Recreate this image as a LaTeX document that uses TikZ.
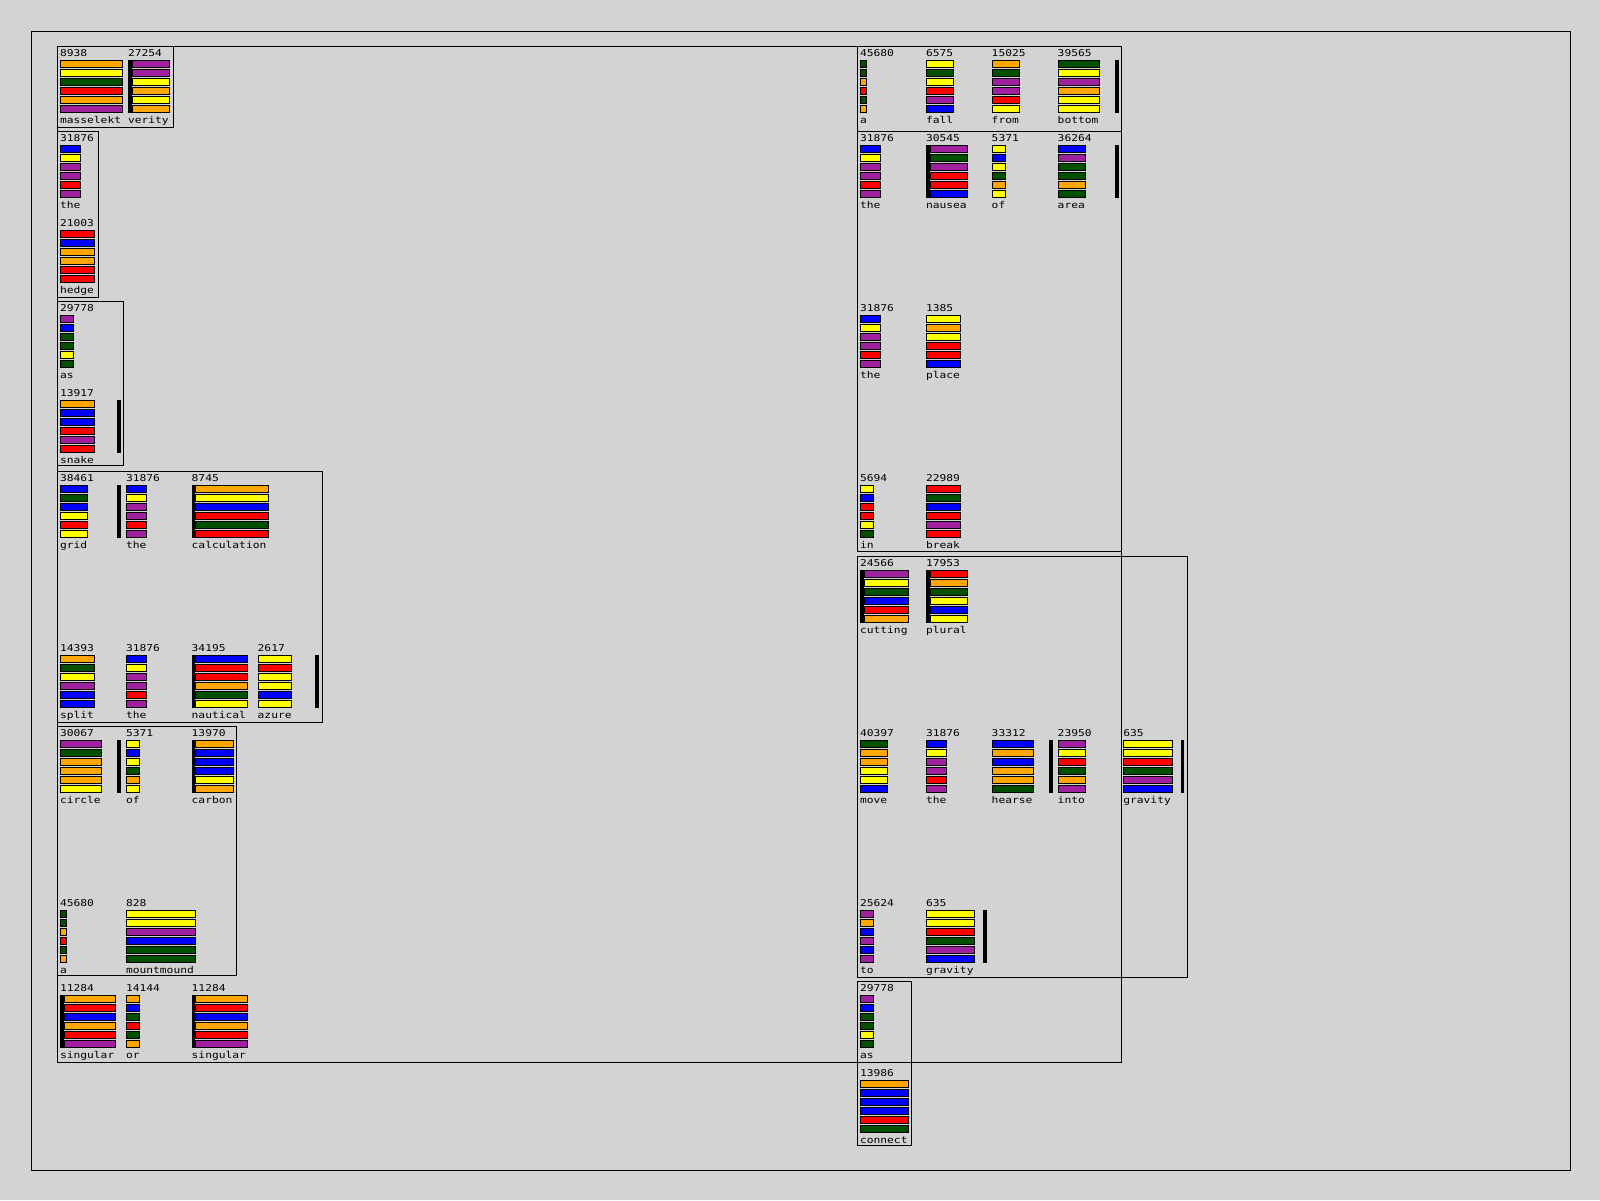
\documentclass[tikz,border=0pt]{standalone}
\usepackage{fontspec}
\newfontfamily\pixfont[FakeStretch=1.2]{DejaVu Sans Mono}
\definecolor{wO}{RGB}{255,165,0}
\definecolor{wY}{RGB}{255,255,0}
\definecolor{wG}{RGB}{0,80,0}
\definecolor{wR}{RGB}{255,0,0}
\definecolor{wP}{RGB}{160,32,160}
\definecolor{wB}{RGB}{0,0,255}
\definecolor{bgc}{RGB}{211,211,211}
\tikzset{
 lab/.style={inner sep=0pt, outer sep=0pt, font=\pixfont\fontsize{9.4}{9.4}\selectfont, anchor=base west, text=black},
 wbar/.style={draw=black, line width=1pt},
 wframe/.style={draw=black, line width=1pt},
 blk/.style={fill=black, draw=none},
}
% #1 name, #2 x, #3 top, #4 number, #5 word, #6 bar x0, #7 bar x1, #8 colours
\newcommand\wcell[8]{%
 \node[lab] (#1n) at ({#2},{#3+9.7}) {#4};
 \node[lab] (#1w) at ({#2},{#3+77}) {#5};
 \foreach \cl [count=\k from 0] in {#8} {
   \draw[wbar, fill=\cl] ({#6+0.5},{#3+14.5+9*\k}) rectangle ({#7-0.5},{#3+20.9+9*\k});
 }
}
\newcommand\lblk[2]{\fill[blk] ({#1},{#2+14}) rectangle ({#1+3.6},{#2+66.4});}
\newcommand\rblk[2]{\fill[blk] ({#1+57.3},{#2+14}) rectangle ({#1+61},{#2+66.4});}
\begin{document}
\begin{tikzpicture}[x=1pt,y=-1pt]
\fill[bgc] (0,0) rectangle (1600,1200);
\useasboundingbox (0,0) rectangle (1600,1200);
% frames
\draw[wframe] (31,31) rectangle (1570.5,1170.5);
\draw[wframe] (57.8,46.8) rectangle (1121.8,1062.8);
\draw[wframe] (57.8,46.8) rectangle (173.2,127.8);
\draw[wframe] (57.8,131.8) rectangle (98.2,297.5);
\draw[wframe] (57.8,301.8) rectangle (123.8,465.5);
\draw[wframe] (57.8,471.8) rectangle (322.2,722.5);
\draw[wframe] (57.8,726.8) rectangle (236.5,975.8);
\draw[wframe] (857.8,46.8) rectangle (1121.8,551.2);
\draw[wframe] (857.8,131.8) rectangle (1121.8,551.2);
\draw[wframe] (857.8,556.8) rectangle (1187.8,977.5);
\draw[wframe] (857.8,981.8) rectangle (911.8,1145.5);
% left column
\wcell{a1}{60}{46.3}{8938}{masselekt}{60}{122.7}{wO,wY,wG,wR,wO,wP}
\lblk{128}{46.3}
\wcell{a2}{128}{46.3}{27254}{verity}{131.7}{169.7}{wP,wP,wY,wO,wY,wO}
\wcell{a3}{60}{131.3}{31876}{the}{60}{80.7}{wB,wY,wP,wP,wR,wP}
\wcell{a4}{60}{216.3}{21003}{hedge}{60}{94.7}{wR,wB,wO,wO,wR,wR}
\wcell{a5}{60}{301.3}{29778}{as}{60}{73.7}{wP,wB,wG,wG,wY,wG}
\wcell{a6}{60}{386.3}{13917}{snake}{60}{94.7}{wO,wB,wB,wR,wP,wR}
\rblk{60}{386.3}
\wcell{a7}{60}{471.3}{38461}{grid}{60}{87.7}{wB,wG,wB,wY,wR,wY}
\rblk{60}{471.3}
\wcell{a8}{126}{471.3}{31876}{the}{126}{146.7}{wB,wY,wP,wP,wR,wP}
\lblk{191.7}{471.3}
\wcell{a9}{191.7}{471.3}{8745}{calculation}{195.4}{268.7}{wO,wY,wB,wR,wG,wR}
\wcell{a10}{60}{641.3}{14393}{split}{60}{94.7}{wO,wG,wY,wP,wB,wB}
\wcell{a11}{126}{641.3}{31876}{the}{126}{146.7}{wB,wY,wP,wP,wR,wP}
\lblk{191.7}{641.3}
\wcell{a12}{191.7}{641.3}{34195}{nautical}{195.4}{247.7}{wB,wR,wR,wO,wG,wY}
\wcell{a13}{257.7}{641.3}{2617}{azure}{257.7}{292.3}{wY,wR,wY,wY,wB,wY}
\rblk{257.7}{641.3}
\wcell{a14}{60}{726.3}{30067}{circle}{60}{101.7}{wP,wG,wO,wO,wO,wY}
\rblk{60}{726.3}
\wcell{a15}{126}{726.3}{5371}{of}{126}{139.7}{wY,wB,wY,wG,wO,wY}
\lblk{191.7}{726.3}
\wcell{a16}{191.7}{726.3}{13970}{carbon}{195.4}{233.7}{wO,wB,wB,wB,wY,wO}
\wcell{a17}{60}{896.3}{45680}{a}{60}{66.7}{wG,wG,wO,wR,wG,wO}
\wcell{a18}{126}{896.3}{828}{mountmound}{126}{195.7}{wY,wY,wP,wB,wG,wG}
\lblk{60}{981.3}
\wcell{a19}{60}{981.3}{11284}{singular}{63.5}{115.7}{wO,wR,wB,wO,wR,wP}
\wcell{a20}{126}{981.3}{14144}{or}{126}{139.7}{wO,wB,wG,wR,wG,wO}
\lblk{191.7}{981.3}
\wcell{a21}{191.7}{981.3}{11284}{singular}{195.4}{247.7}{wO,wR,wB,wO,wR,wP}
% right column
\wcell{b1}{860}{46.3}{45680}{a}{860}{866.7}{wG,wG,wO,wR,wG,wO}
\wcell{b2}{926}{46.3}{6575}{fall}{926}{953.7}{wY,wG,wY,wR,wP,wB}
\wcell{b3}{991.7}{46.3}{15025}{from}{991.7}{1019.7}{wO,wG,wP,wP,wR,wY}
\wcell{b4}{1057.7}{46.3}{39565}{bottom}{1057.7}{1099.7}{wG,wY,wP,wO,wY,wY}
\rblk{1057.7}{46.3}
\wcell{b5}{860}{131.3}{31876}{the}{860}{880.7}{wB,wY,wP,wP,wR,wP}
\lblk{926}{131.3}
\wcell{b6}{926}{131.3}{30545}{nausea}{929.6}{967.7}{wP,wG,wP,wR,wR,wB}
\wcell{b7}{991.7}{131.3}{5371}{of}{991.7}{1005.7}{wY,wB,wY,wG,wO,wY}
\wcell{b8}{1057.7}{131.3}{36264}{area}{1057.7}{1085.7}{wB,wP,wG,wG,wO,wG}
\rblk{1057.7}{131.3}
\wcell{b9}{860}{301.3}{31876}{the}{860}{880.7}{wB,wY,wP,wP,wR,wP}
\wcell{b10}{926}{301.3}{1385}{place}{926}{960.7}{wY,wO,wY,wR,wR,wB}
\wcell{b11}{860}{471.3}{5694}{in}{860}{873.7}{wY,wB,wR,wR,wY,wG}
\wcell{b12}{926}{471.3}{22989}{break}{926}{960.7}{wR,wG,wB,wR,wP,wR}
\lblk{860}{556.3}
\wcell{b13}{860}{556.3}{24566}{cutting}{863.5}{908.7}{wP,wY,wG,wB,wR,wO}
\lblk{926}{556.3}
\wcell{b14}{926}{556.3}{17953}{plural}{929.6}{967.7}{wR,wO,wG,wY,wB,wY}
\wcell{b15}{860}{726.3}{40397}{move}{860}{887.7}{wG,wO,wO,wY,wY,wB}
\wcell{b16}{926}{726.3}{31876}{the}{926}{946.7}{wB,wY,wP,wP,wR,wP}
\wcell{b17}{991.7}{726.3}{33312}{hearse}{991.7}{1033.7}{wB,wO,wB,wO,wO,wG}
\rblk{991.7}{726.3}
\wcell{b18}{1057.7}{726.3}{23950}{into}{1057.7}{1085.7}{wP,wY,wR,wG,wO,wP}
\wcell{b19}{1123.3}{726.3}{635}{gravity}{1123.3}{1172.7}{wY,wY,wR,wG,wP,wB}
\rblk{1123.3}{726.3}
\wcell{b20}{860}{896.3}{25624}{to}{860}{873.7}{wP,wO,wB,wP,wB,wP}
\wcell{b21}{926}{896.3}{635}{gravity}{926}{974.7}{wY,wY,wR,wG,wP,wB}
\rblk{926}{896.3}
\wcell{b22}{860}{981.3}{29778}{as}{860}{873.7}{wP,wB,wG,wG,wY,wG}
\wcell{b23}{860}{1066.3}{13986}{connect}{860}{908.7}{wO,wB,wB,wB,wR,wG}
\end{tikzpicture}
\end{document}
